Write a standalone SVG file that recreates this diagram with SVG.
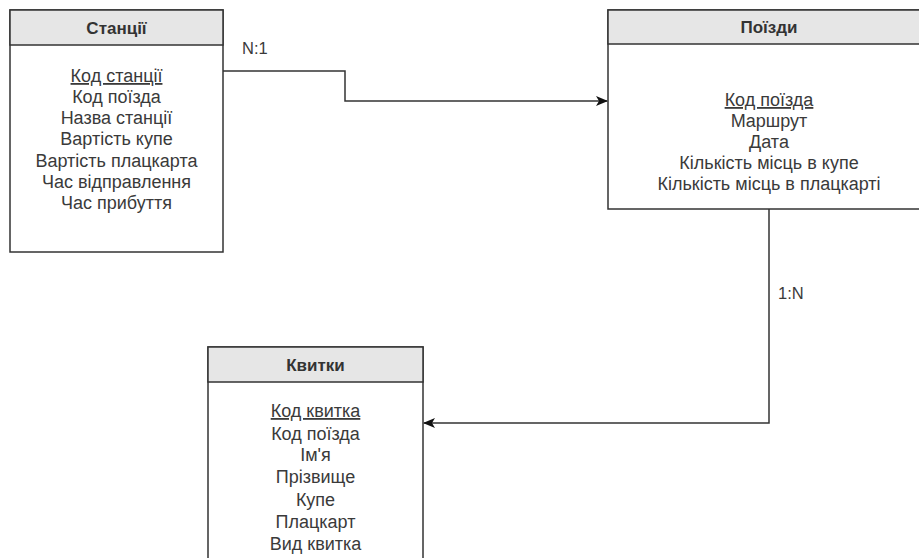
<svg xmlns="http://www.w3.org/2000/svg" width="919" height="558" viewBox="0 0 919 558">
<defs>
<style>
.box{fill:#ffffff;stroke:#333333;stroke-width:1.5}
.hdr{fill:#e6e6e6;stroke:#333333;stroke-width:1.5}
.t{font-family:"Liberation Sans",Arial,sans-serif;font-size:18px;fill:#3a3a3a;text-anchor:middle}
.h{font-family:"Liberation Sans",Arial,sans-serif;font-size:17px;font-weight:bold;fill:#333333;text-anchor:middle}
.pk{text-decoration:underline}
.lbl{font-family:"Liberation Sans",Arial,sans-serif;font-size:16.5px;fill:#3a3a3a}
.conn{fill:none;stroke:#333333;stroke-width:1.5}
</style>
<marker id="arr" viewBox="0 0 12 10" refX="11" refY="5" markerWidth="12" markerHeight="10" markerUnits="userSpaceOnUse" orient="auto">
<path d="M0,0 L12,5 L0,10 L3,5 Z" fill="#111111"/>
</marker>
</defs>
<rect width="919" height="558" fill="#ffffff"/>
<g id="stations">
<rect class="box" x="10" y="10" width="213" height="242"/>
<rect class="hdr" x="10" y="10" width="213" height="35"/>
<text class="h" x="116.5" y="34">Станції</text>
<text class="t pk" x="116.5" y="82">Код станції</text>
<text class="t" x="116.5" y="103">Код поїзда</text>
<text class="t" x="116.5" y="124">Назва станції</text>
<text class="t" x="116.5" y="145">Вартість купе</text>
<text class="t" x="116.5" y="167">Вартість плацкарта</text>
<text class="t" x="116.5" y="188">Час відправлення</text>
<text class="t" x="116.5" y="209">Час прибуття</text>
</g>
<g id="trains">
<rect class="box" x="608" y="10" width="322" height="199"/>
<rect class="hdr" x="608" y="10" width="322" height="34"/>
<text class="h" x="769" y="33">Поїзди</text>
<text class="t pk" x="769" y="106">Код поїзда</text>
<text class="t" x="769" y="127">Маршрут</text>
<text class="t" x="769" y="148">Дата</text>
<text class="t" x="769" y="169">Кількість місць в купе</text>
<text class="t" x="769" y="190">Кількість місць в плацкарті</text>
</g>
<g id="tickets">
<rect class="box" x="208" y="347" width="215" height="230"/>
<rect class="hdr" x="208" y="347" width="215" height="35"/>
<text class="h" x="315.5" y="371">Квитки</text>
<text class="t pk" x="315.5" y="417">Код квитка</text>
<text class="t" x="315.5" y="440">Код поїзда</text>
<text class="t" x="315.5" y="461">Ім'я</text>
<text class="t" x="315.5" y="483">Прізвище</text>
<text class="t" x="315.5" y="506">Купе</text>
<text class="t" x="315.5" y="528">Плацкарт</text>
<text class="t" x="315.5" y="550">Вид квитка</text>
</g>
<g id="connectors">
<path class="conn" d="M223,71 H345 V101 H607" marker-end="url(#arr)"/>
<path class="conn" d="M769,209 V423 H424" marker-end="url(#arr)"/>
<text class="lbl" x="242" y="54">N:1</text>
<text class="lbl" x="778" y="299">1:N</text>
</g>
</svg>
